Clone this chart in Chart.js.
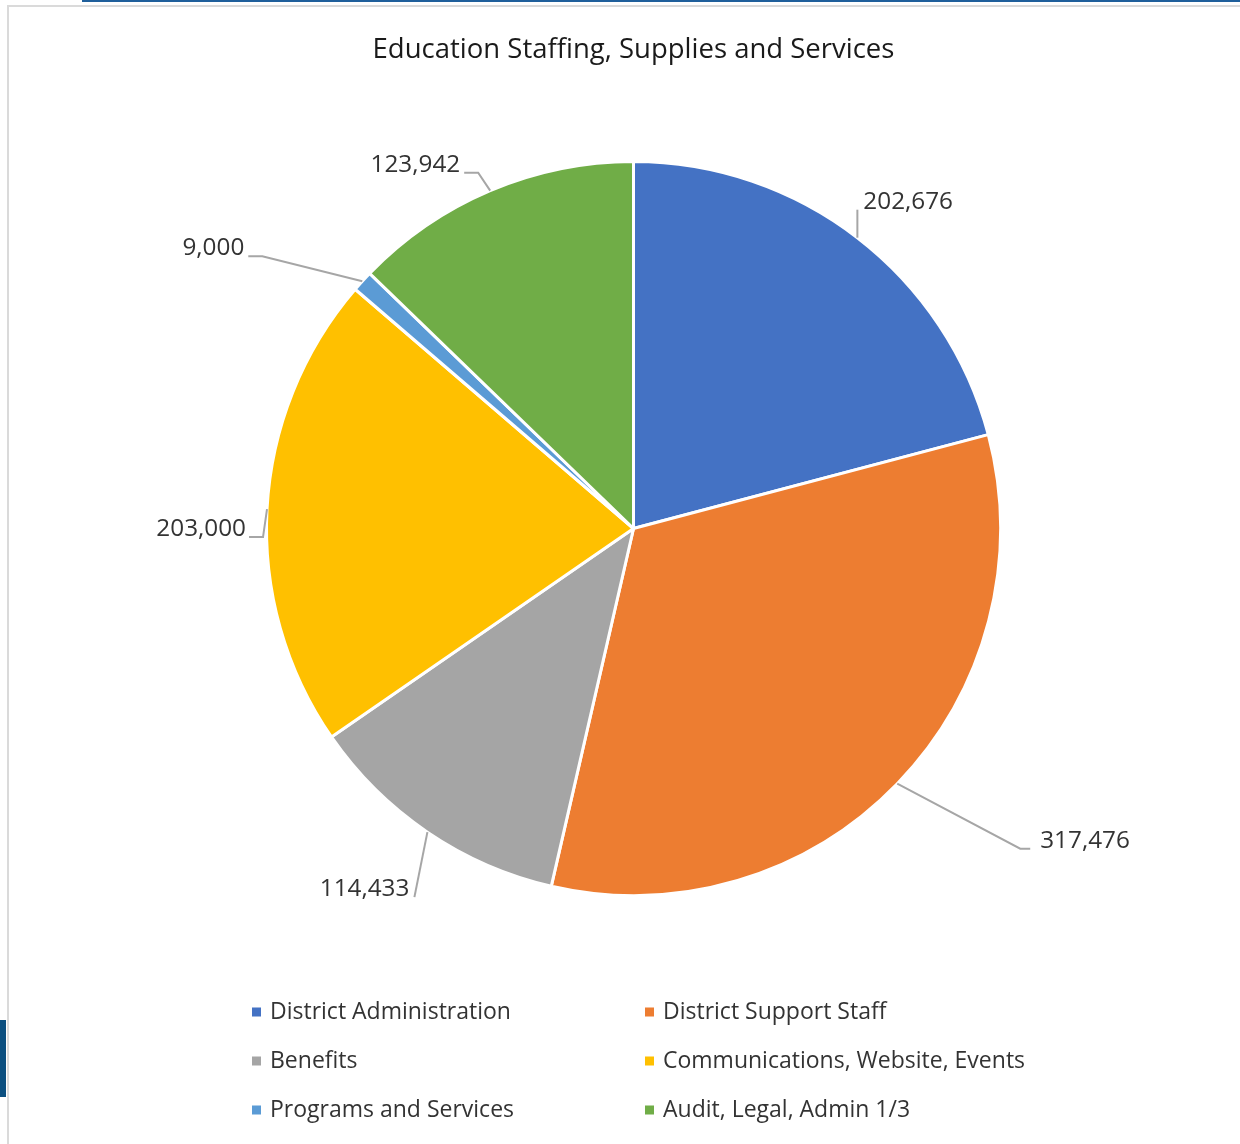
<!DOCTYPE html>
<html>
<head>
<meta charset="utf-8">
<script src="https://cdn.jsdelivr.net/npm/chart.js@4.4.1/dist/chart.umd.min.js"></script>
<style>
  html, body { margin: 0; padding: 0; background: #fff; }
  #wrap { position: relative; width: 1240px; height: 1144px; overflow: hidden; }
  .frame-top { position: absolute; left: 7px; top: 5px; right: 0; height: 2px; background: #dadada; }
  .frame-left { position: absolute; left: 7px; top: 5px; bottom: 0; width: 2px; background: #dadada; }
  .blue-top { position: absolute; left: 82px; top: 0; right: 0; height: 2px; background: #1f5f9b; }
  .blue-tab { position: absolute; left: 0; top: 1020px; width: 6px; height: 77px; background: #0b4f80; }
  canvas { position: absolute; left: 0; top: 0; }
</style>
</head>
<body>
<div id="wrap">
  <div class="blue-top"></div>
  <div class="frame-top"></div>
  <div class="frame-left"></div>
  <div class="blue-tab"></div>
  <canvas id="chart" width="1240" height="1144"></canvas>
</div>
<script>
const chartTitle = 'Education Staffing, Supplies and Services';
const categories = [
  'District Administration',
  'District Support Staff',
  'Benefits',
  'Communications, Website, Events',
  'Programs and Services',
  'Audit, Legal, Admin 1/3'
];
const amounts = [202676, 317476, 114433, 203000, 9000, 123942];
const sliceColors = ['#4472C4', '#ED7D31', '#A5A5A5', '#FFC000', '#5B9BD5', '#70AD47'];

const FONT = "'Open Sans', 'DejaVu Sans', sans-serif";

// data labels with leader lines, placed roughly like Excel does
const calloutPlugin = {
  id: 'callouts',
  afterDatasetsDraw(chart, args, opts) {
    const ctx = chart.ctx;
    const meta = chart.getDatasetMeta(0);
    const values = chart.data.datasets[0].data;
    ctx.save();
    ctx.font = opts.font;
    ctx.fillStyle = '#333333';
    ctx.textBaseline = 'middle';
    meta.data.forEach((arc, i) => {
      const p = arc.getProps(['x', 'y', 'startAngle', 'endAngle', 'outerRadius']);
      const mid = (p.startAngle + p.endAngle) / 2;
      const ex = p.x + Math.cos(mid) * p.outerRadius;
      const ey = p.y + Math.sin(mid) * p.outerRadius;
      const c = opts.callouts[i];
      const bx = ex + c.dx, by = ey + c.dy;
      const tx = bx + c.tail;
      ctx.strokeStyle = '#a6a6a6';
      ctx.lineWidth = 2;
      ctx.beginPath();
      ctx.moveTo(ex, ey);
      ctx.lineTo(bx, by);
      ctx.lineTo(tx, by);
      ctx.stroke();
      ctx.textAlign = c.gap < 0 ? 'right' : 'left';
      ctx.fillText(values[i].toLocaleString('en-US'), tx + c.gap, by - 8);
    });
    ctx.restore();
  }
};

// two-column legend under the pie
const legendPlugin = {
  id: 'gridLegend',
  afterDraw(chart, args, opts) {
    const ctx = chart.ctx;
    const labels = chart.data.labels;
    const colors = chart.data.datasets[0].backgroundColor;
    ctx.save();
    ctx.font = opts.font;
    ctx.textBaseline = 'middle';
    ctx.textAlign = 'left';
    labels.forEach((lab, i) => {
      const col = i % 2, row = Math.floor(i / 2);
      const x = opts.colX[col];
      const y = opts.top + row * opts.rowGap;
      ctx.fillStyle = colors[i];
      ctx.fillRect(x, y - 4.5, 9, 9);
      ctx.fillStyle = '#333333';
      ctx.fillText(lab, x + 18, y);
    });
    ctx.restore();
  }
};

new Chart(document.getElementById('chart').getContext('2d'), {
  type: 'pie',
  data: {
    labels: categories,
    datasets: [{
      data: amounts,
      backgroundColor: sliceColors,
      borderColor: '#ffffff',
      borderWidth: 3
    }]
  },
  options: {
    responsive: false,
    animation: false,
    layout: { padding: { left: 265, right: 238, top: 0, bottom: 247 } },
    plugins: {
      legend: { display: false },
      tooltip: { enabled: false },
      title: {
        display: true,
        text: chartTitle,
        color: '#1a1a1a',
        font: { family: FONT, size: 27.5, weight: 'normal', lineHeight: 1.2 },
        padding: { top: 34, bottom: 93 }
      },
      callouts: {
        font: "24.3px " + FONT,
        callouts: [
          { dx: 0, dy: -28, tail: 0, gap: 6 },
          { dx: 123, dy: 65, tail: 10, gap: 10 },
          { dx: -13, dy: 65, tail: 0, gap: -5 },
          { dx: -4, dy: 28, tail: -14, gap: -3 },
          { dx: -100, dy: -25, tail: -14, gap: -4 },
          { dx: -12, dy: -18, tail: -14, gap: -4 }
        ]
      },
      gridLegend: {
        font: "23px " + FONT,
        colX: [252, 645],
        top: 1012,
        rowGap: 49
      }
    }
  },
  plugins: [calloutPlugin, legendPlugin]
});
</script>
</body>
</html>
